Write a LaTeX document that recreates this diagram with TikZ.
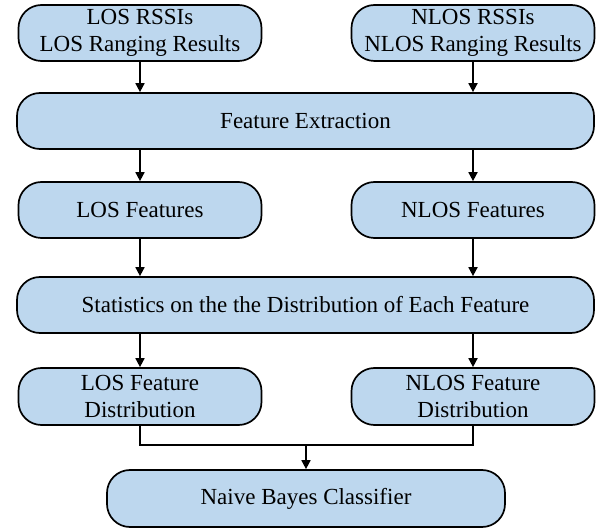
\documentclass[tikz,border=0pt]{standalone}
\usepackage{fontspec}
\setmainfont{Liberation Serif}
\usetikzlibrary{arrows.meta}
\definecolor{boxfill}{HTML}{BDD7EE}
\begin{document}
\begin{tikzpicture}[x=1pt,y=-1pt,
  flowbox/.style={draw=black, line width=1.7pt, fill=boxfill, rounded corners=23pt,
    minimum height=56pt, inner sep=0pt, align=center,
    font=\fontsize{23}{26.5}\selectfont},
  side/.style={flowbox, minimum width=243pt},
  wide/.style={flowbox, minimum width=577pt},
  flow/.style={line width=1.7pt, -{Triangle[length=9pt,width=9pt]}},
  link/.style={line width=1.7pt}]
\useasboundingbox (0,0) rectangle (600,529);

% input data
\node[side] (los)  at (140,33)  {LOS RSSIs\\LOS Ranging Results};
\node[side] (nlos) at (473,33)  {NLOS RSSIs\\NLOS Ranging Results};
% feature extraction
\node[wide] (fe)   at (305.5,121) {Feature Extraction};
\node[side] (losf)  at (140,210) {LOS Features};
\node[side] (nlosf) at (473,210) {NLOS Features};
% statistics
\node[wide] (stats) at (305.5,305) {Statistics on the the Distribution of Each Feature};
\node[side, minimum height=57pt] (losd)  at (140,396.5) {LOS Feature\\Distribution};
\node[side, minimum height=57pt] (nlosd) at (473,396.5) {NLOS Feature\\Distribution};
% classifier
\node[flowbox, minimum width=398pt, minimum height=57pt] (naive) at (306,498.5) {Naive Bayes Classifier};

\coordinate (join) at (306,445);

\draw[flow] (los.south)  -- (los.south |- fe.north);
\draw[flow] (nlos.south) -- (nlos.south |- fe.north);
\draw[flow] (fe.south -| losf.north)  -- (losf.north);
\draw[flow] (fe.south -| nlosf.north) -- (nlosf.north);
\draw[flow] (losf.south)  -- (losf.south |- stats.north);
\draw[flow] (nlosf.south) -- (nlosf.south |- stats.north);
\draw[flow] (stats.south -| losd.north)  -- (losd.north);
\draw[flow] (stats.south -| nlosd.north) -- (nlosd.north);
\draw[link] (losd.south) |- (join) -| (nlosd.south);
\draw[flow] (join) -- (naive.north);
\end{tikzpicture}
\end{document}
